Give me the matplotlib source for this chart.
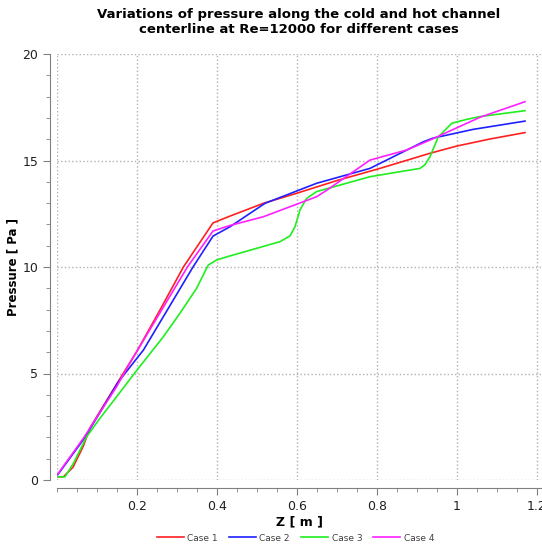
import matplotlib
matplotlib.use("Agg")
import matplotlib.pyplot as plt
from matplotlib.ticker import MultipleLocator

# pressure along the channel centerline
z_case1 = [0.0, 0.016, 0.04, 0.066, 0.0825, 0.149, 0.2, 0.258, 0.316, 0.39, 0.4325,
           0.516, 0.599, 0.7, 0.8075, 0.9325, 1.0, 1.08, 1.17]
p_case1 = [0.15, 0.15, 0.6, 1.6, 2.45, 4.5, 6.05, 8.0, 10.0, 12.07, 12.39,
           12.99, 13.46, 14.06, 14.63, 15.34, 15.68, 16.0, 16.31]

z_case2 = [0.0, 0.07, 0.153, 0.216, 0.34, 0.39, 0.4325, 0.52, 0.649, 0.7825,
           0.916, 0.94, 1.04, 1.17]
p_case2 = [0.2, 2.0, 4.6, 6.1, 10.0, 11.45, 11.89, 12.99, 13.93, 14.63,
           15.88, 16.05, 16.46, 16.85]

z_case3 = [0.0, 0.02, 0.041, 0.074, 0.1075, 0.149, 0.1975, 0.266, 0.3075, 0.349,
           0.378, 0.399, 0.4325, 0.5575, 0.5825, 0.595, 0.6075, 0.624, 0.649,
           0.7825, 0.9075, 0.92, 0.9325, 0.953, 0.987, 1.024, 1.057, 1.17]
p_case3 = [0.15, 0.15, 0.78, 2.03, 2.9, 3.91, 5.1, 6.73, 7.83, 9.0,
           10.09, 10.33, 10.52, 11.19, 11.46, 11.89, 12.68, 13.22, 13.54,
           14.24, 14.63, 14.8, 15.18, 16.1, 16.75, 16.93, 17.06, 17.34]

z_case4 = [0.0, 0.066, 0.149, 0.1825, 0.2, 0.326, 0.39, 0.4325, 0.516, 0.649,
           0.674, 0.7825, 0.874, 0.9325, 1.0575, 1.17]
p_case4 = [0.23, 1.96, 4.38, 5.5, 6.05, 10.0, 11.69, 11.95, 12.36, 13.3,
           13.6, 15.02, 15.49, 15.96, 17.03, 17.76]

labels = ["Case 1", "Case 2", "Case 3", "Case 4"]
colors = ["#ff2020", "#2020ff", "#20ee20", "#ff20ff"]

fig = plt.figure(figsize=(5.42, 5.48), dpi=100)
ax = fig.add_axes([57 / 542, 68 / 548, 484 / 542, 426 / 548])

series = [(z_case1, p_case1), (z_case2, p_case2), (z_case3, p_case3), (z_case4, p_case4)]
for (z, p), lab, c in zip(series, labels, colors):
    ax.plot(z, p, color=c, lw=1.2, label=lab)

ax.set_xlim(0, 1.21)
ax.set_ylim(0, 20)
ax.xaxis.set_major_locator(MultipleLocator(0.2))
ax.xaxis.set_minor_locator(MultipleLocator(0.05))
ax.yaxis.set_major_locator(MultipleLocator(5))
ax.yaxis.set_minor_locator(MultipleLocator(1))
ax.set_xticks([0.2, 0.4, 0.6, 0.8, 1.0, 1.2])
ax.set_xticklabels(["0.2", "0.4", "0.6", "0.8", "1", "1.2"])

ax.grid(True, which="major", color="#b0b0b0", linestyle=":", lw=1.0)
ax.axvline(ax.get_xlim()[0], color="#b0b0b0", linestyle=":", lw=1.0)

for s in ["top", "right"]:
    ax.spines[s].set_visible(False)
ax.spines["left"].set_position(("outward", 5))
ax.spines["bottom"].set_position(("outward", 6))
ax.spines["left"].set_color("#808080")
ax.spines["bottom"].set_color("#808080")
ax.tick_params(which="major", length=5, color="#808080", labelsize=9, labelcolor="#202020")
ax.tick_params(which="minor", length=3, color="#808080")

ax.set_xlabel("Z [ m ]", fontsize=9, fontweight="bold", labelpad=2)
ax.set_ylabel("Pressure [ Pa ]", fontsize=8.5, fontweight="bold", labelpad=2)
fig.suptitle("Variations of pressure along the cold and hot channel\n"
             "centerline at Re=12000 for different cases",
             x=299 / 542, y=0.985, fontsize=9.5, fontweight="bold")

fig.legend(loc="lower center", bbox_to_anchor=(0.545, -0.005), ncol=4, frameon=False,
           fontsize=6.5, handlelength=3, columnspacing=1.2, handletextpad=0.4,
           labelcolor="#404040")

fig.savefig("out.png", dpi=100)
